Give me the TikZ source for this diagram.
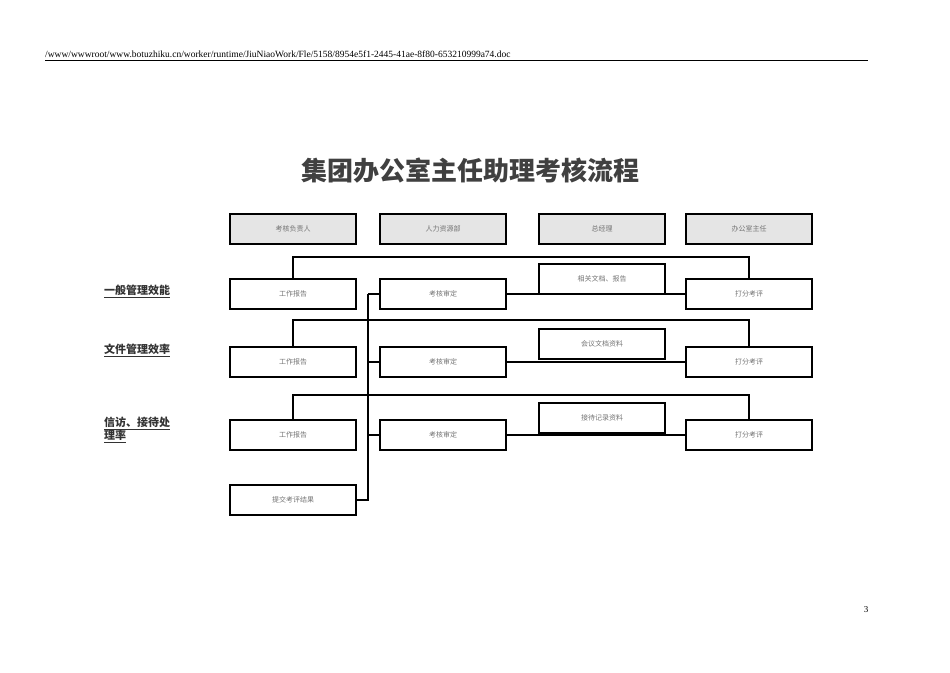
\documentclass[tikz,border=0pt]{standalone}
\usepackage{fontspec}
\setmainfont{Liberation Serif}
\newfontfamily\cjk{Noto Sans CJK SC}
\usetikzlibrary{arrows.meta}

\tikzset{
  box/.style={draw, line width=1.8pt, minimum width=126pt, minimum height=30pt, inner sep=0pt, font=\cjk\fontsize{7}{8}\selectfont, text=black!55},
  head/.style={box, fill=black!10},
  link/.style={line width=1.8pt},
  rowlabel/.style={anchor=north west, font=\cjk\fontsize{11}{13}\selectfont\bfseries, text=black!80, align=left, inner sep=0pt}
}

\begin{document}
\begin{tikzpicture}[x=1pt,y=-1pt]
\useasboundingbox (0,0) rectangle (950,672);

\draw (45,60) -- (868,60);
\node[anchor=south west, inner sep=0pt, font=\fontsize{9.5}{10}\selectfont] at (45,58)
  {/www/wwwroot/www.botuzhiku.cn/worker/runtime/JiuNiaoWork/Fle/5158/8954e5f1-2445-41ae-8f80-653210999a74.doc};
\node[font=\fontsize{9}{10}\selectfont] at (866,610) {3};

\node[font=\cjk\fontsize{26}{28}\selectfont\bfseries, text=black!75] (title) at (470,171) {集团办公室主任助理考核流程};

% headers
\node[head] (h1) at (293,229) {考核负责人};
\node[head] (h2) at (443,229) {人力资源部};
\node[head] (h3) at (602,229) {总经理};
\node[head] (h4) at (749,229) {办公室主任};

% row labels
\node[rowlabel] (l1) at (104,285) {\underline{一般管理效能}};
\node[rowlabel] (l2) at (104,344) {\underline{文件管理效率}};
\node[rowlabel] (l3) at (104,417) {\underline{信访、接待处}\\\underline{理率}};

% row 1
\node[box] (w1) at (293,294) {工作报告};
\node[box] (s1) at (443,294) {考核审定};
\node[box] (d1) at (602,279) {相关文档、报告};
\node[box] (p1) at (749,294) {打分考评};
% row 2
\node[box] (w2) at (293,362) {工作报告};
\node[box] (s2) at (443,362) {考核审定};
\node[box] (d2) at (602,344) {会议文档资料};
\node[box] (p2) at (749,362) {打分考评};
% row 3
\node[box] (w3) at (293,435) {工作报告};
\node[box] (s3) at (443,435) {考核审定};
\node[box] (d3) at (602,418) {接待记录资料};
\node[box] (p3) at (749,435) {打分考评};

\node[box] (r) at (293,500) {提交考评结果};

\coordinate (bt) at (368,294);
\coordinate (bb) at (368,500);

\foreach \i/\y in {1/257,2/320,3/395}{
  \draw[link] (w\i.north) |- (p\i.north |- 0,\y) -- (p\i.north);
  \draw[link] (s\i.east) -- (p\i.west);
  \draw[link] (bt |- s\i.west) -- (s\i.west);
}
\draw[link] (bt) -- (bb) -- (r.east);
\end{tikzpicture}
\end{document}
